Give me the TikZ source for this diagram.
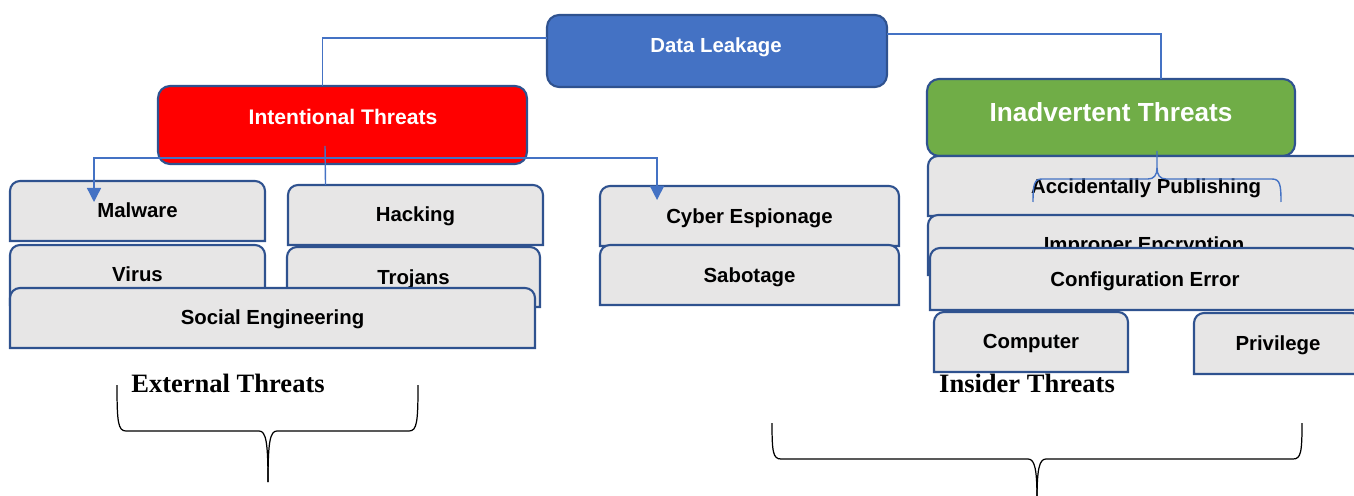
\documentclass[tikz,border=0pt]{standalone}
\usepackage{fontspec}
\setmainfont{Liberation Serif}
\setsansfont{Liberation Sans}
\usetikzlibrary{arrows.meta}
\definecolor{edgeblue}{HTML}{2F528F}
\definecolor{linkblue}{HTML}{4472C4}
\definecolor{headblue}{HTML}{4472C4}
\definecolor{headgreen}{HTML}{70AD47}
\definecolor{boxgray}{HTML}{E7E6E6}
\tikzset{graybox/.style={draw=edgeblue, fill=boxgray, line width=1.2pt},
         frame/.style={rectangle, draw=none, inner sep=0pt, outer sep=0pt},
         headbox/.style={frame, draw=edgeblue, line width=1.2pt, rounded corners=0.24cm},
         boxtext/.style={font=\sffamily\bfseries\fontsize{11.6}{13}\selectfont, inner sep=0pt,
                         text height=8.4pt, text depth=0pt},
         headtext/.style={boxtext, text=white},
         threat/.style={font=\rmfamily\bfseries\fontsize{15.1}{17}\selectfont, inner sep=0pt,
                        text height=10pt, text depth=0pt},
         link/.style={draw=linkblue, line width=0.8pt},
         brace/.style={draw=black, line width=0.7pt}}
% box with rounded top corners: name, x1, y1, x2, y2, text y, text
\newcommand\leakbox[7]{%
  \path[graybox] (#2,#5) -- (#2,#3+10) arc[start angle=180,end angle=90,radius=0.2cm]
    -- (#4-10,#3) arc[start angle=90,end angle=0,radius=0.2cm] -- (#4,#5) -- cycle;
  \node[frame, minimum width={(#4-#2)*0.02cm}, minimum height={(#5-#3)*0.02cm}]
    (#1) at ({(#2+#4)/2},{(#3+#5)/2}) {};
  \node[boxtext] (#1-t) at ({(#2+#4)/2},#6) {#7};}

\begin{document}
\begin{tikzpicture}[x=0.02cm, y=-0.02cm]
        \useasboundingbox (0,0) rectangle (1354,496);

        % Heads
        \node[headbox, fill=headblue, minimum width=6.8cm, minimum height=1.44cm] (dl) at (717,51) {};
        \node[headtext] (dl-t) at (716,45) {Data Leakage};
        \node[headbox, fill=red, minimum width=7.38cm, minimum height=1.56cm] (it) at (342.5,125) {};
        \node[headtext, font=\sffamily\bfseries\fontsize{12}{14}\selectfont, text height=8.6pt] (it-t) at (343,117) {Intentional Threats};
        \node[headbox, fill=headgreen, minimum width=7.36cm, minimum height=1.54cm] (iv) at (1111,117.5) {};
        \node[headtext, font=\sffamily\bfseries\fontsize{14.9}{17}\selectfont, text height=10.7pt] (iv-t) at (1111,112) {Inadvertent Threats};

        % External side
        \leakbox{mw}{10}{181}{265}{241}{210}{Malware}
        \leakbox{hk}{288}{185}{543}{245}{214}{Hacking}
        \leakbox{vr}{10}{245}{265}{305}{274}{Virus}
        \leakbox{tj}{287}{247}{540}{307}{277}{Trojans}
        \leakbox{se}{10}{288}{535}{348}{317}{Social Engineering}
        \leakbox{ce}{600}{186}{899}{246}{216}{Cyber Espionage}
        \leakbox{sb}{600}{245}{899}{305}{275}{Sabotage}

        % Insider side
        \leakbox{ap}{928}{156}{1364}{216}{186}{Accidentally Publishing}
        \leakbox{ie}{928}{215}{1360}{275}{244}{Improper Encryption}
        \leakbox{cf}{930}{248}{1360}{310}{279}{Configuration Error}
        \leakbox{cp}{934}{312}{1128}{372}{341}{Computer}
        \leakbox{pv}{1194}{313}{1362}{374}{343}{Privilege}

        % Connectors
        \draw[link] ([yshift=0.26cm]dl.west) -| ([xshift=-0.4cm]it.north);
        \draw[link] ([yshift=0.34cm]dl.east) -| ([xshift=1cm]iv.north);
        \draw[link] ([xshift=-0.35cm,yshift=0.36cm]it.south) -- ([xshift=-1.8cm]hk.north);
        \draw[link, {Triangle[width=8pt,length=8pt]}-{Triangle[width=8pt,length=8pt]}]
            ([xshift=-0.87cm,yshift=-0.42cm]mw.north) |- ([yshift=0.12cm]it.south)
            -| ([xshift=-1.85cm,yshift=-0.28cm]ce.north);

        \coordinate (ap-b) at (1157,168);
        \draw[link] ([xshift=0.92cm,yshift=0.1cm]iv.south) -- (ap-b);
        \draw[link] (1033,202) .. controls (1033,185) and (1034,179) .. (1042,179) -- (1148,179)
            .. controls (1154,179) and (1157,175) .. (ap-b);
        \draw[link] (1281,202) .. controls (1281,185) and (1280,179) .. (1272,179) -- (1166,179)
            .. controls (1160,179) and (1157,175) .. (ap-b);

        % Braces
        \node[threat] (ext) at (228,384) {External Threats};
        \node[threat] (ins) at (1027,384) {Insider Threats};
        \draw[brace] (117,385) .. controls (117,422) and (118,431) .. (126,431) -- (259,431)
            .. controls (266,431) and (268,442) .. (268,482);
        \draw[brace] (418,385) .. controls (418,422) and (417,431) .. (409,431) -- (277,431)
            .. controls (270,431) and (268,442) .. (268,482);
        \draw[brace] (772,423) .. controls (772,452) and (773,459) .. (781,459) -- (1028,459)
            .. controls (1035,459) and (1037,470) .. (1037,500);
        \draw[brace] (1302,423) .. controls (1302,452) and (1301,459) .. (1293,459) -- (1046,459)
            .. controls (1039,459) and (1037,470) .. (1037,500);
\end{tikzpicture}
\end{document}
